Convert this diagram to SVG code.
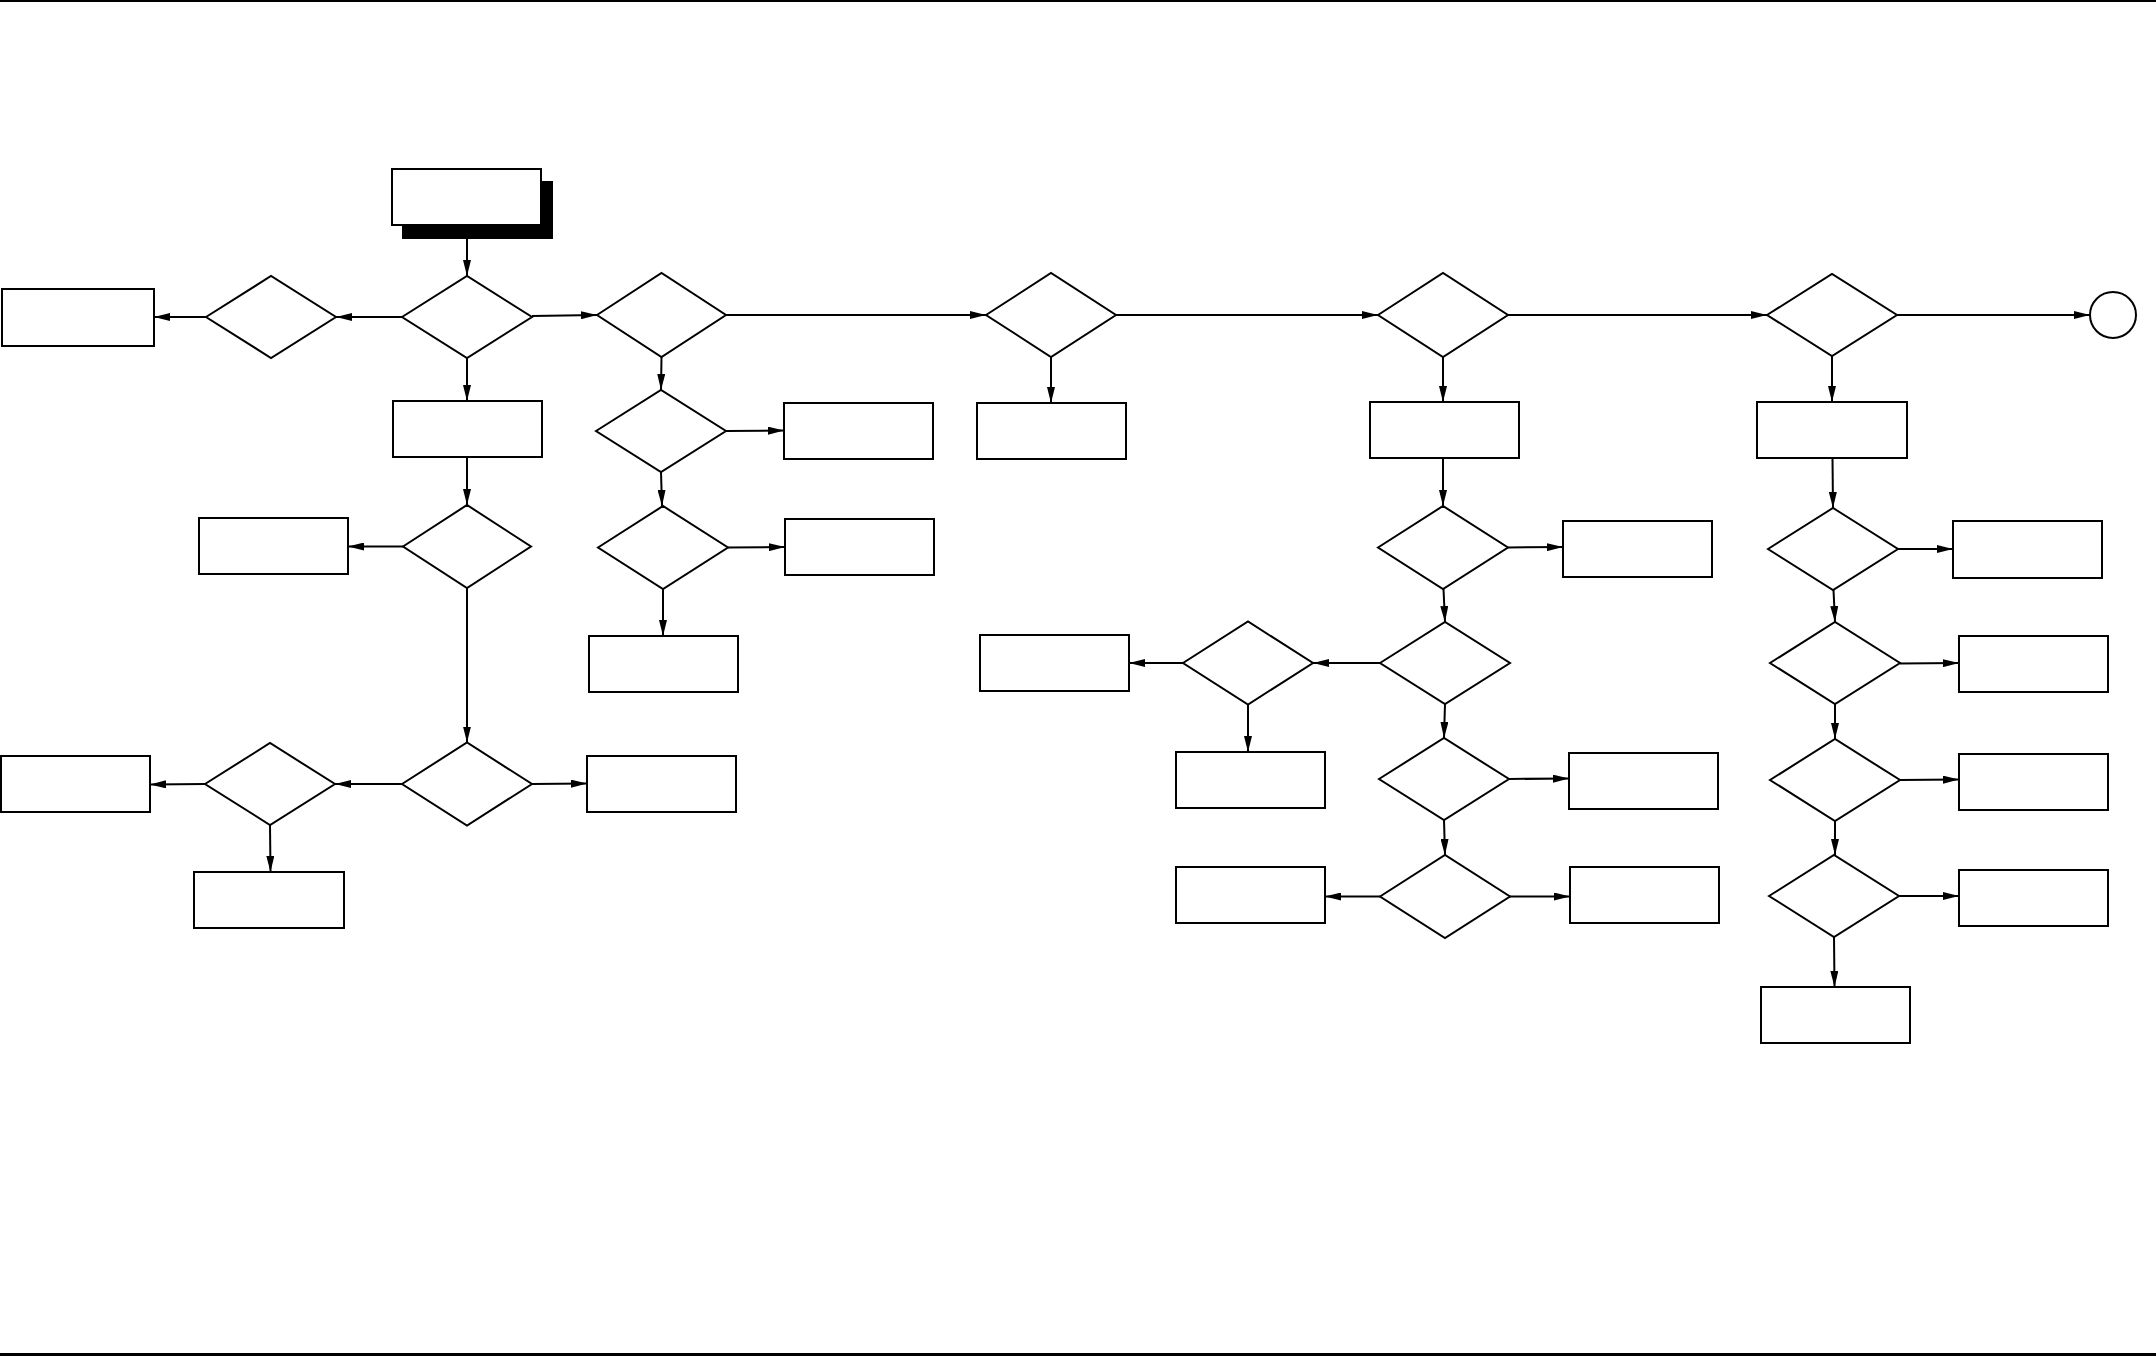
<svg xmlns="http://www.w3.org/2000/svg" width="2156" height="1356" viewBox="0 0 2156 1356">
<defs>
<style>
.n{fill:#fff;stroke:#000;stroke-width:2}
.c{fill:none;stroke:#000;stroke-width:2;marker-end:url(#ah)}
</style>
<marker id="ah" markerUnits="userSpaceOnUse" markerWidth="16" markerHeight="8" refX="16" refY="4" orient="auto">
<path d="M0,0 L16,4 L0,8 z" fill="#000"/>
</marker>
</defs>
<rect width="2156" height="1356" fill="#fff"/>
<rect x="0" y="0" width="2156" height="2" fill="#000"/>
<rect x="0" y="1353" width="2156" height="3" fill="#000"/>

<g id="start"><rect x="402" y="181" width="151" height="58" fill="#000"/><rect class="n" x="392" y="169" width="149" height="56"/></g>
<g id="bL1"><rect class="n" x="2" y="289" width="152" height="57"/></g>
<g id="dL1"><polygon class="n" points="206,317 271,276 336,317 271,358"/></g>
<g id="d1"><polygon class="n" points="402,317 467,276 532,317 467,358"/></g>
<g id="b1"><rect class="n" x="393" y="401" width="149" height="56"/></g>
<g id="d3"><polygon class="n" points="403,546.5 467,505 531,546.5 467,588"/></g>
<g id="b3L"><rect class="n" x="199" y="518" width="149" height="56"/></g>
<g id="d4"><polygon class="n" points="402,784 467,742.5 532,784 467,825.5"/></g>
<g id="b4R"><rect class="n" x="587" y="756" width="149" height="56"/></g>
<g id="d5"><polygon class="n" points="205,784 270,743 335,784 270,825"/></g>
<g id="b5L"><rect class="n" x="1" y="756" width="149" height="56"/></g>
<g id="b5B"><rect class="n" x="194" y="872" width="150" height="56"/></g>

<g id="d2"><polygon class="n" points="597,315 661.5,273 726,315 661.5,357"/></g>
<g id="d6"><polygon class="n" points="596,431 661,390 726,431 661,472"/></g>
<g id="b6R"><rect class="n" x="784" y="403" width="149" height="56"/></g>
<g id="d7"><polygon class="n" points="598,547.5 663,506 728,547.5 663,589"/></g>
<g id="b7R"><rect class="n" x="785" y="519" width="149" height="56"/></g>
<g id="b7B"><rect class="n" x="589" y="636" width="149" height="56"/></g>

<g id="d8"><polygon class="n" points="986,315 1051,273 1116,315 1051,357"/></g>
<g id="b8"><rect class="n" x="977" y="403" width="149" height="56"/></g>

<g id="d9"><polygon class="n" points="1378,315 1443,273 1508,315 1443,357"/></g>
<g id="b9"><rect class="n" x="1370" y="402" width="149" height="56"/></g>
<g id="d10"><polygon class="n" points="1378,547.5 1443,506 1508,547.5 1443,589"/></g>
<g id="b10R"><rect class="n" x="1563" y="521" width="149" height="56"/></g>
<g id="d11"><polygon class="n" points="1380,663 1445,622 1510,663 1445,704"/></g>
<g id="d12"><polygon class="n" points="1183,663 1248,621.5 1313,663 1248,704.5"/></g>
<g id="b12L"><rect class="n" x="980" y="635" width="149" height="56"/></g>
<g id="b12B"><rect class="n" x="1176" y="752" width="149" height="56"/></g>
<g id="d13"><polygon class="n" points="1379,779 1444,738 1509,779 1444,820"/></g>
<g id="b13R"><rect class="n" x="1569" y="753" width="149" height="56"/></g>
<g id="d14"><polygon class="n" points="1380,896.5 1445,855 1510,896.5 1445,938"/></g>
<g id="b14L"><rect class="n" x="1176" y="867" width="149" height="56"/></g>
<g id="b14R"><rect class="n" x="1570" y="867" width="149" height="56"/></g>

<g id="d15"><polygon class="n" points="1767,315 1832,274 1897,315 1832,356"/></g>
<g id="end"><circle class="n" cx="2113" cy="315" r="23"/></g>
<g id="b15"><rect class="n" x="1757" y="402" width="150" height="56"/></g>
<g id="d16"><polygon class="n" points="1768,549 1833,508 1898,549 1833,590"/></g>
<g id="b16R"><rect class="n" x="1953" y="521" width="149" height="57"/></g>
<g id="d17"><polygon class="n" points="1770,663 1835,622 1900,663 1835,704"/></g>
<g id="b17R"><rect class="n" x="1959" y="636" width="149" height="56"/></g>
<g id="d18"><polygon class="n" points="1770,780 1835,739 1900,780 1835,821"/></g>
<g id="b18R"><rect class="n" x="1959" y="754" width="149" height="56"/></g>
<g id="d19"><polygon class="n" points="1769,896 1834,855 1899,896 1834,937"/></g>
<g id="b19R"><rect class="n" x="1959" y="870" width="149" height="56"/></g>
<g id="b19B"><rect class="n" x="1761" y="987" width="149" height="56"/></g>

<g id="connectors">
<line class="c" x1="467" y1="239" x2="467" y2="276"/>
<line class="c" x1="402" y1="317" x2="336" y2="317"/>
<line class="c" x1="206" y1="317" x2="154" y2="317"/>
<line class="c" x1="532" y1="316" x2="597" y2="315"/>
<line class="c" x1="467" y1="358" x2="467" y2="401"/>
<line class="c" x1="467" y1="457" x2="467" y2="505"/>
<line class="c" x1="403" y1="546.5" x2="348" y2="546.5"/>
<line class="c" x1="467" y1="588" x2="467" y2="742.5"/>
<line class="c" x1="402" y1="784" x2="335" y2="784"/>
<line class="c" x1="532" y1="784" x2="587" y2="783.5"/>
<line class="c" x1="205" y1="784" x2="150" y2="784.5"/>
<line class="c" x1="270" y1="825" x2="270.5" y2="872"/>

<line class="c" x1="726" y1="315" x2="986" y2="315"/>
<line class="c" x1="1116" y1="315" x2="1378" y2="315"/>
<line class="c" x1="1508" y1="315" x2="1767" y2="315"/>
<line class="c" x1="1897" y1="315" x2="2090" y2="315"/>

<line class="c" x1="661.5" y1="357" x2="661" y2="390"/>
<line class="c" x1="661" y1="472" x2="662" y2="506"/>
<line class="c" x1="663" y1="589" x2="663" y2="636"/>
<line class="c" x1="726" y1="431" x2="784" y2="430.5"/>
<line class="c" x1="728" y1="547.5" x2="785" y2="547"/>

<line class="c" x1="1051" y1="357" x2="1051" y2="403"/>

<line class="c" x1="1443" y1="357" x2="1443" y2="402"/>
<line class="c" x1="1443" y1="458" x2="1443" y2="506"/>
<line class="c" x1="1508" y1="547.5" x2="1563" y2="547"/>
<line class="c" x1="1443.5" y1="589" x2="1445" y2="622"/>
<line class="c" x1="1380" y1="663" x2="1313" y2="663"/>
<line class="c" x1="1183" y1="663" x2="1129" y2="663"/>
<line class="c" x1="1248" y1="704.5" x2="1248" y2="752"/>
<line class="c" x1="1445" y1="704" x2="1444" y2="738"/>
<line class="c" x1="1509" y1="779" x2="1569" y2="778.5"/>
<line class="c" x1="1444" y1="820" x2="1445" y2="855"/>
<line class="c" x1="1380" y1="896.5" x2="1325" y2="896.5"/>
<line class="c" x1="1510" y1="896.5" x2="1570" y2="896.5"/>

<line class="c" x1="1832" y1="356" x2="1832" y2="402"/>
<line class="c" x1="1832.5" y1="458" x2="1833" y2="508"/>
<line class="c" x1="1898" y1="549" x2="1953" y2="549"/>
<line class="c" x1="1833.5" y1="590" x2="1835" y2="622"/>
<line class="c" x1="1900" y1="663.5" x2="1959" y2="663"/>
<line class="c" x1="1835" y1="704" x2="1835" y2="739"/>
<line class="c" x1="1900" y1="780" x2="1959" y2="779.5"/>
<line class="c" x1="1835" y1="821" x2="1835" y2="855"/>
<line class="c" x1="1899" y1="896" x2="1959" y2="896"/>
<line class="c" x1="1834" y1="937" x2="1834.5" y2="987"/>
</g>
</svg>
